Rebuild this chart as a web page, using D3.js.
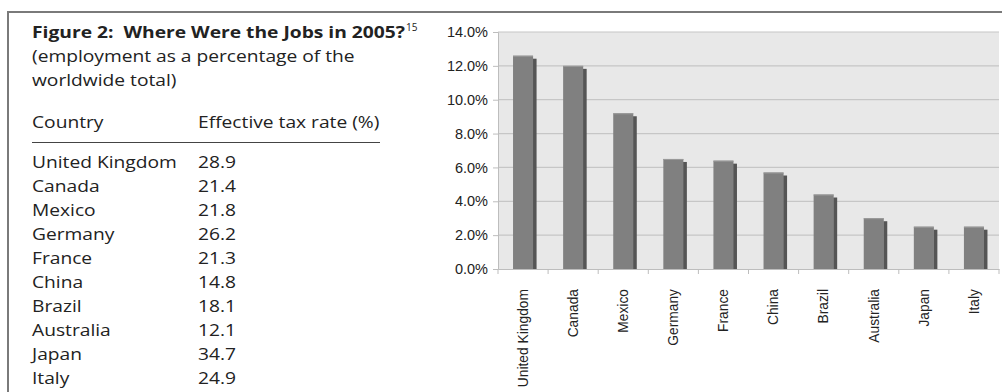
<!DOCTYPE html>
<html><head><meta charset="utf-8">
<script src="https://cdn.jsdelivr.net/npm/d3@7"></script>
<style>
html,body{margin:0;padding:0;background:#fff;}
svg{display:block;}
</style></head>
<body>
<svg id="c" width="1002" height="392"></svg>
<script>
const countries = ["United Kingdom","Canada","Mexico","Germany","France","China","Brazil","Australia","Japan","Italy"];
const taxRates = ["28.9","21.4","21.8","26.2","21.3","14.8","18.1","12.1","34.7","24.9"];
const jobShare = [12.6, 12.0, 9.2, 6.5, 6.4, 5.7, 4.4, 3.0, 2.5, 2.5];
const yTicks = [0, 2, 4, 6, 8, 10, 12, 14];
const titleText = "Figure 2:  Where Were the Jobs in 2005?";
const titleSup = "15";
const subtitleLines = ["(employment as a percentage of the", "worldwide total)"];
const colHeaders = ["Country", "Effective tax rate (%)"];

const svg = d3.select("#c");

// frame
svg.append("line").attr("x1",8).attr("x2",1002).attr("y1",12).attr("y2",12).attr("stroke","#7a7a7a").attr("stroke-width",2);
svg.append("line").attr("x1",8).attr("x2",8).attr("y1",11).attr("y2",392).attr("stroke","#7a7a7a").attr("stroke-width",2);

// left text block
const leftFont = "'Open Sans', 'Noto Sans', sans-serif";
const fs = 17.2, sx = 1.116;
const tx = 32, col2 = 198;
function place(sel, xx, yy){ return sel.attr("transform",`translate(${xx},${yy}) scale(${sx},1)`); }

const t = svg.append("text").attr("x",tx).attr("y",37.5)
  .attr("font-family",leftFont).attr("font-size",16.5).attr("font-weight","bold").attr("fill","#222")
  .style("white-space","pre");
t.append("tspan").attr("textLength",373).attr("lengthAdjust","spacingAndGlyphs").text(titleText);
t.append("tspan").attr("font-size",10).attr("font-weight","normal").attr("dx",1).attr("dy",-7).text(titleSup);

svg.selectAll("text.sub").data(subtitleLines).join("text").attr("class","sub")
  .each(function(d,i){ place(d3.select(this), tx, 62+i*23.5); })
  .attr("font-family",leftFont).attr("font-size",fs).attr("fill","#222").text(d=>d);

place(svg.append("text"), tx, 128).attr("font-family",leftFont).attr("font-size",fs).attr("fill","#222").text(colHeaders[0]);
place(svg.append("text"), col2, 128).attr("font-family",leftFont).attr("font-size",fs).attr("fill","#222").text(colHeaders[1]);
svg.append("line").attr("x1",tx).attr("x2",380).attr("y1",142.5).attr("y2",142.5).attr("stroke","#444").attr("stroke-width",1);

const rowY = d3.scaleLinear().domain([0,9]).range([168,384]);
const rows = svg.selectAll("g.row").data(countries).join("g").attr("class","row");
rows.append("text").each(function(d,i){ place(d3.select(this), tx, rowY(i)); })
  .attr("font-family",leftFont).attr("font-size",fs).attr("fill","#222").text(d=>d);
rows.append("text").each(function(d,i){ place(d3.select(this), col2, rowY(i)); })
  .attr("font-family",leftFont).attr("font-size",fs).attr("fill","#222").text((d,i)=>taxRates[i]);

// chart
const x0 = 498, x1 = 999, yTop = 32, yBot = 269;
const x = d3.scaleBand().domain(countries).range([x0,x1]).paddingInner(0).paddingOuter(0);
const y = d3.scaleLinear().domain([0,14]).range([yBot,yTop]);

svg.append("rect").attr("x",x0).attr("y",yTop).attr("width",x1-x0).attr("height",yBot-yTop).attr("fill","#e8e8e8");

// gridlines
svg.append("g").selectAll("line").data(yTicks.filter(d=>d>0)).join("line")
  .attr("x1",x0).attr("x2",x1).attr("y1",d=>y(d)).attr("y2",d=>y(d))
  .attr("stroke","#c6c6c6").attr("stroke-width",1.2);

// y axis
const yAxis = d3.axisLeft(y).tickValues(yTicks).tickSize(5).tickPadding(5).tickFormat(d=>d3.format(".1f")(d)+"%");
const ga = svg.append("g").attr("transform",`translate(${x0},0)`).call(yAxis);
ga.attr("font-size",null).attr("font-family",null);
ga.select(".domain").attr("stroke","#bdbdbd");
ga.selectAll(".tick line").attr("stroke","#bdbdbd");
ga.selectAll(".tick text").style("font-family","'Liberation Sans', Arial, sans-serif").style("font-size","14.5px").attr("fill","#222");

// x axis
const xAxis = d3.axisBottom(x).tickSize(0).tickFormat(d=>d);
const gx = svg.append("g").attr("transform",`translate(0,${yBot})`).call(xAxis);
gx.attr("font-size",null).attr("font-family",null);
gx.select(".domain").attr("stroke","#bdbdbd");
gx.selectAll(".tick text").style("font-family","'Liberation Sans', Arial, sans-serif").style("font-size","13.8px").attr("fill","#222")
  .attr("transform","rotate(-90)").attr("text-anchor","end").attr("x",-20).attr("y",0).attr("dy","0.35em");
// category separator ticks
gx.append("g").selectAll("line").data(countries.concat([null])).join("line")
  .attr("x1",(d,i)=> d===null ? x1 : x(d)).attr("x2",(d,i)=> d===null ? x1 : x(d))
  .attr("y1",0).attr("y2",5).attr("stroke","#bdbdbd");

// bars
const bw = x.bandwidth();
const bars = svg.append("g").selectAll("g").data(countries).join("g");
bars.append("rect").attr("x",d=>x(d)+bw*0.3+bw*0.4-0.5).attr("y",(d,i)=>y(jobShare[i])+3)
  .attr("width",4).attr("height",(d,i)=>yBot-y(jobShare[i])-3).attr("fill","#555");
bars.append("rect").attr("x",d=>x(d)+bw*0.3).attr("y",(d,i)=>y(jobShare[i]))
  .attr("width",bw*0.4).attr("height",(d,i)=>yBot-y(jobShare[i])).attr("fill","#808080");
bars.append("line").attr("x1",d=>x(d)+bw*0.3).attr("x2",d=>x(d)+bw*0.7)
  .attr("y1",(d,i)=>y(jobShare[i])+0.5).attr("y2",(d,i)=>y(jobShare[i])+0.5).attr("stroke","#9a9a9a");
</script>
</body></html>
